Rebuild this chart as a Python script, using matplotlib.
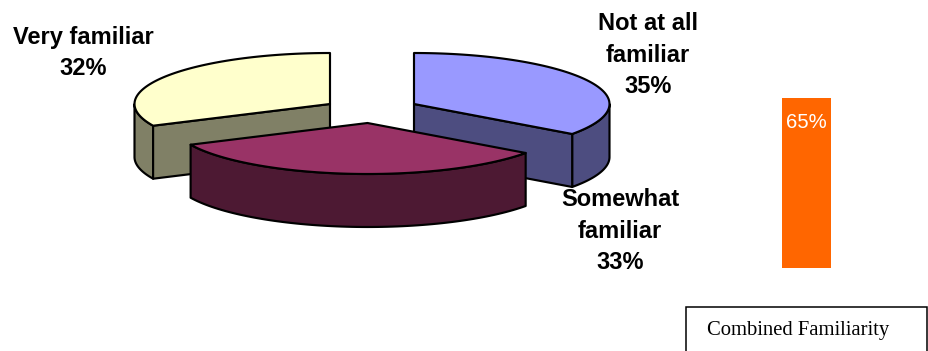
import numpy as np
import matplotlib
matplotlib.use("Agg")
import matplotlib.pyplot as plt
from matplotlib.patches import Polygon, Rectangle

W, H = 929, 351
categories = ["Not at all\nfamiliar", "Somewhat\nfamiliar", "Very familiar"]
values = [35, 33, 32]
top_colors = ["#9999FF", "#993366", "#FFFFCC"]
side_colors = ["#4D4D80", "#4D1933", "#808066"]
combined_value = 65
combined_label = "65%"
combined_name = "Combined Familiarity"

# layout (pixels)
apex = [(414, 104), (367.5, 123), (330, 104)]
label_pos = [(648, 55), (620, 231), (83, 53)]
RX, RY, DEPTH = 195.5, 51, 53
plt.rcParams["font.family"] = ["Liberation Sans", "DejaVu Sans"]

fig = plt.figure(figsize=(W / 100, H / 100), dpi=100, facecolor="white")
ax = fig.add_axes([0, 0, 1, 1])
ax.set_xlim(0, W)
ax.set_ylim(H, 0)
ax.axis("off")


def rim(c, a0, a1, n=80):
    t = np.radians(np.linspace(a0, a1, n))
    return np.column_stack([c[0] + RX * np.sin(t), c[1] - RY * np.cos(t)])


def draw_slice(c, a0, a1, top, side, z):
    kw = dict(edgecolor="black", lw=1.55, joinstyle="round", zorder=z)
    depth = np.array([0, DEPTH])
    arc = rim(c, a0, a1)
    # outer wall: the part of the rim facing the viewer (90 to 270 degrees)
    w0, w1 = max(a0, 90), min(a1, 270)
    if w1 > w0:
        wall = rim(c, w0, w1)
        ax.add_patch(Polygon(np.vstack([wall, (wall + depth)[::-1]]), facecolor=side, **kw))
    # cut faces that turn toward the viewer
    for a in (a0, a1):
        if a in (0, 360):
            continue
        e = rim(c, a, a, 1)[0]
        if (a0 < 180 and a == a1 and a1 < 180) or (a1 > 180 and a == a0 and a0 > 180):
            ax.add_patch(Polygon([c, e, e + depth, np.array(c) + depth], facecolor=side, **kw))
    ax.add_patch(Polygon(np.vstack([[c], arc]), facecolor=top, **kw))


edges = np.cumsum([0] + values) * 360 / sum(values)
order = [2, 0, 1]
for rank, i in enumerate(order):
    draw_slice(apex[i], edges[i], edges[i + 1], top_colors[i], side_colors[i], 2 + rank)

for name, v, (x, y) in zip(categories, values, label_pos):
    ax.text(x, y, f"{name}\n{v}%", ha="center", va="center", fontsize=17.0,
            fontweight="bold", color="black", linespacing=1.49, zorder=10)

# combined bar
bx0, bx1, by0, by1 = 781.7, 831.3, 98, 268
bar_ax = fig.add_axes([bx0 / W, 1 - by1 / H, (bx1 - bx0) / W, (by1 - by0) / H])
bar_ax.bar([0], [combined_value], width=1, color="#FF6600")
bar_ax.set_xlim(-0.5, 0.5)
bar_ax.set_ylim(0, combined_value)
bar_ax.axis("off")
bar_ax.text(0, combined_value * 0.858, combined_label, ha="center", va="center",
            color="white", fontsize=14.6)

# legend-like box, clipped by the figure edge
ax.add_patch(Rectangle((686, 307), 241, 60, facecolor="white", edgecolor="black",
                       lw=1.1, zorder=5, clip_on=True))
ax.text(707, 330, combined_name, ha="left", va="center", family="Liberation Serif",
        fontsize=14.9, color="black", zorder=6)

fig.savefig("out.png", dpi=100)
